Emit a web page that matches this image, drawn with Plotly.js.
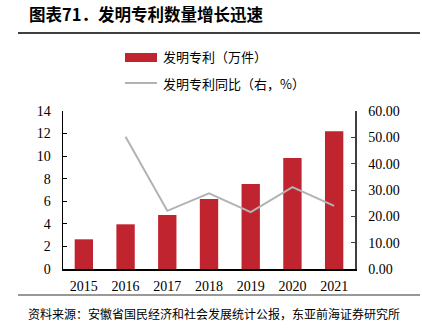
<!DOCTYPE html>
<html><head><meta charset="utf-8">
<script src="https://cdn.plot.ly/plotly-3.0.1.min.js"></script>
<style>html,body{margin:0;padding:0;background:#fff;}#c{width:422px;height:331px;}</style>
</head><body><div id="c"></div>
<script>
const years = ['2015','2016','2017','2018','2019','2020','2021'];
const patents = [2.63, 3.96, 4.78, 6.2, 7.53, 9.83, 12.2];
const growth = [null, 50.2, 22.1, 28.7, 21.6, 31.1, 24.0];
const leftTicks = [0,2,4,6,8,10,12,14];
const rightTicks = [0,10,20,30,40,50,60];
const titleText = '图表71．发明专利数量增长迅速';
const sourceText = '资料来源：安徽省国民经济和社会发展统计公报，东亚前海证券研究所';
const barName = '发明专利（万件）';
const lineName = '发明专利同比（右，%）';

const L=63, R=355, T=111, B=269, W=422, H=331;
const px = x => (x-L)/(R-L);
const py = y => (B-y)/(B-T);
const serif = 'Liberation Serif, Times New Roman, serif';
const cjk = 'Noto Sans CJK SC, sans-serif';

const data = [
  {type:'bar', x:years, y:patents, name:barName, marker:{color:'#C0242F'}, width:0.44, showlegend:false, hoverinfo:'none'},
  {type:'scatter', mode:'lines', x:years, y:growth, yaxis:'y2', name:lineName, line:{color:'#B3B3B3', width:2}, showlegend:false, hoverinfo:'none', connectgaps:false}
];
const layout = {
  width:W, height:H, margin:{l:L, r:W-R, t:T, b:H-B},
  paper_bgcolor:'#fff', plot_bgcolor:'#fff',
  font:{family:serif, size:14, color:'#000'},
  showlegend:false,
  xaxis:{type:'category', range:[-0.5,6.5], showline:true, linecolor:'#000', linewidth:1.5, ticks:'', showgrid:false, zeroline:false, tickfont:{family:serif,size:14}, ticklen:0, ticklabelstandoff:4},
  yaxis:{range:[0,14], tickvals:leftTicks, showline:true, linecolor:'#000', linewidth:1.5, ticks:'inside', ticklen:4, tickcolor:'#000', showgrid:false, zeroline:false, tickfont:{family:serif,size:14}, ticklabelstandoff:8},
  yaxis2:{overlaying:'y', side:'right', range:[0,60], tickvals:rightTicks, ticktext:rightTicks.map(v=>v.toFixed(2)), showline:true, linecolor:'#404040', linewidth:1.5, ticks:'inside', ticklen:4, tickcolor:'#404040', showgrid:false, zeroline:false, tickfont:{family:serif,size:14}, ticklabelstandoff:9},
  shapes:[
    {type:'line', xref:'paper', yref:'paper', x0:px(18), x1:px(420), y0:py(33), y1:py(33), line:{color:'#000', width:1.5}},
    {type:'line', xref:'paper', yref:'paper', x0:px(18), x1:px(420), y0:py(295), y1:py(295), line:{color:'#333', width:1}},
    {type:'rect', xref:'paper', yref:'paper', x0:px(125), x1:px(157), y0:py(53), y1:py(62), fillcolor:'#C0242F', line:{width:0}},
    {type:'line', xref:'paper', yref:'paper', x0:px(125), x1:px(157), y0:py(83), y1:py(83), line:{color:'#B3B3B3', width:2}}
  ],
  annotations:[
    {xref:'paper', yref:'paper', x:px(27), y:py(14), xanchor:'left', yanchor:'middle', text:'<b>'+titleText+'</b>', showarrow:false, font:{family:cjk, size:16.5, color:'#000'}},
    {xref:'paper', yref:'paper', x:px(161), y:py(57), xanchor:'left', yanchor:'middle', text:barName, showarrow:false, font:{family:cjk, size:13, color:'#000'}},
    {xref:'paper', yref:'paper', x:px(161), y:py(83), xanchor:'left', yanchor:'middle', text:lineName, showarrow:false, font:{family:cjk, size:13, color:'#000'}},
    {xref:'paper', yref:'paper', x:px(26), y:py(313), xanchor:'left', yanchor:'middle', text:sourceText, showarrow:false, font:{family:cjk, size:12, color:'#000'}}
  ]
};
Plotly.newPlot('c', data, layout, {displayModeBar:false, staticPlot:true});
</script></body></html>
